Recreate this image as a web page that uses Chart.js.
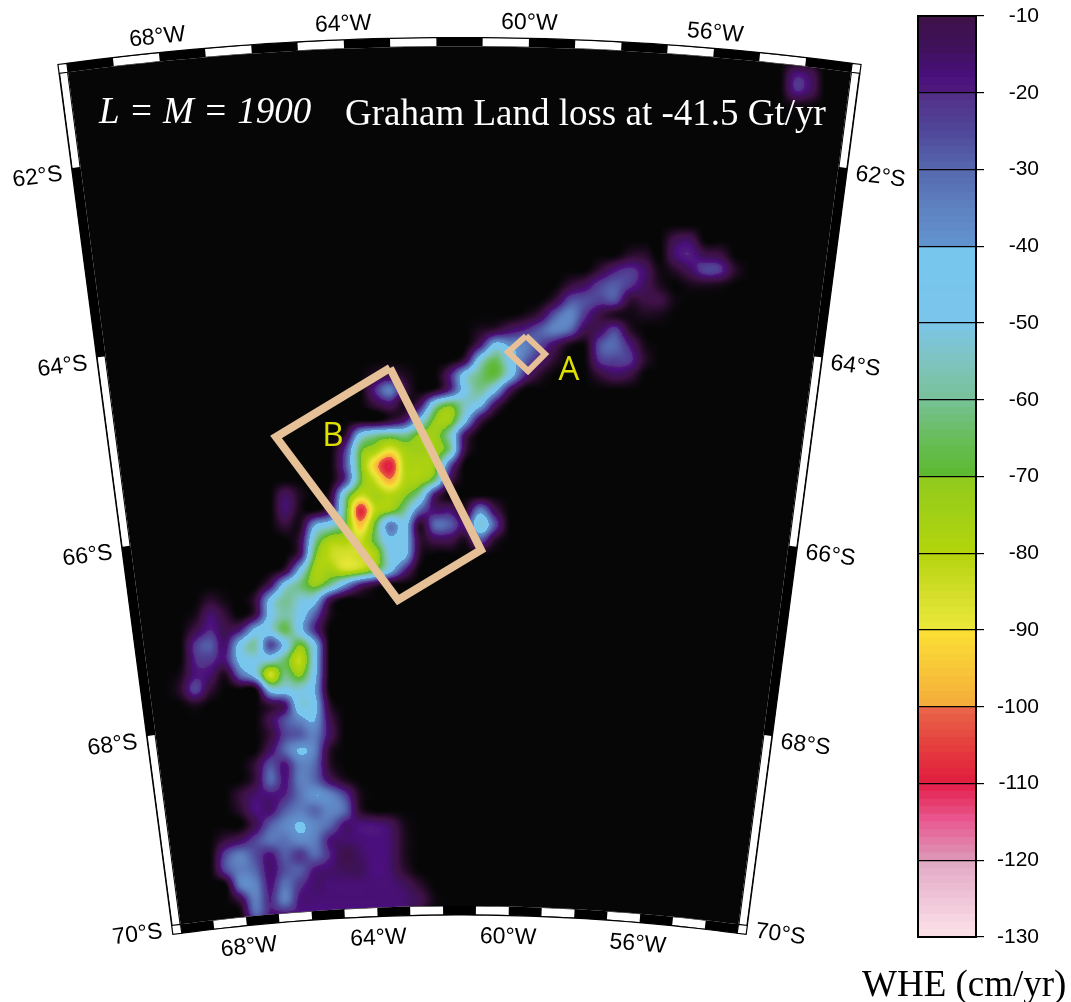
<!DOCTYPE html>
<html>
<head>
<meta charset="utf-8">
<script src="https://cdn.jsdelivr.net/npm/chart.js@4/dist/chart.umd.min.js"></script>
<style>
    html, body { margin: 0; padding: 0; background: #fff; }
    #wrap { position: relative; width: 1071px; height: 1002px; overflow: hidden; }
    canvas { position: absolute; top: 0; }
</style>
</head>
<body>
<div id="wrap">
    <canvas id="map" width="1071" height="1002" style="left:0"></canvas>
    <canvas id="bar" width="211" height="1002" style="left:860px"></canvas>
</div>
<script>
// WHE, cm/yr. One entry per grid row, each run is [first east, values...]
const gridStep = 15;
const gridEast0 = 165;
const gridCols = 46;
const gridNorth = [60, 75, 90, 105, 120, 135, 150, 165, 180, 195, 210, 225, 240, 255, 270, 285, 300, 315, 330, 345, 360, 375, 390, 405, 420, 435, 450, 465, 480, 495, 510, 525, 540, 555, 570, 585, 600, 615, 630, 645, 660, 675, 690, 705, 720, 735, 750, 765, 780, 795, 810, 825, 840, 855, 870, 885, 900, 915];
const gridRuns = [
    [],
    [[795, -18, -14]],
    [[795, -20, -15]],
    [[795, -3, -2]],
    [], [], [], [], [], [], [], [],
    [[675, -12, -14]],
    [[630, -6, -6, 0, -16, -20, -12, -10]],
    [[600, -8, -18, -22, -15, -2, -6, -14, -24, -22, -6]],
    [[570, -8, -14, -24, -28, -22, -14, -4, 0, -3, -4, -3]],
    [[555, -8, -25, -26, -24, -26, -8, -10, -10, -2]],
    [[525, -3, -10, -28, -36, -22, -10, -4, -2, -4, -3]],
    [[480, -4, -8, -15, -20, -28, -35, -30, -12, -14, -24, -6]],
    [[480, -16, -45, -38, -35, -25, -14, -3, -2, -26, -30, -18, -3]],
    [[465, -10, -50, -65, -48, -30, -18, -6, 0, -1, -22, -24, -22, -6]],
    [[375, -6, -10, -4], [450, -18, -48, -62, -68, -48, -20, -6, 0, 0, 0, -8, -14, -10]],
    [[375, -20, -34, -10, 0, -4, -20, -48, -60, -45, -14]],
    [[375, -8, -14, -3, -15, -55, -68, -55, -44, -14]],
    [[390, -6, -16, -45, -72, -74, -46, -12]],
    [[345, -6, -46, -58, -62, -60, -72, -74, -56, -15]],
    [[345, -22, -66, -76, -88, -76, -74, -75, -60, -10]],
    [[345, -25, -68, -95, -110, -80, -78, -72, -28]],
    [[345, -22, -66, -84, -99, -80, -76, -62, -14]],
    [[285, -14, -4], [330, -6, -56, -82, -76, -80, -72, -56, -16]],
    [[285, -16, -3], [330, -14, -62, -108, -82, -74, -60, -30, -16, -16, -6, -34, -12]],
    [[285, -8, -4, -40, -50, -66, -96, -68, -34, -46, -6, -30, -28, -18, -52, -26]],
    [[300, -10, -58, -76, -78, -84, -66, -44, -46, -8, -12, -12, -4, -26, -6]],
    [[300, -14, -68, -82, -86, -84, -78, -50, -44, -6]],
    [[285, -8, -44, -76, -76, -84, -80, -68, -46, -20]],
    [[270, -14, -48, -62, -72, -60, -38, -18, -8]],
    [[210, -6, -2], [255, -8, -44, -60, -52, -46, -12]],
    [[195, -3, -16, -8], [255, -10, -46, -58, -48, -28, -4]],
    [[195, -10, -20, -12, -18, -44, -50, -66, -46, -20]],
    [[195, -22, -28, -16, -46, -58, -25, -46, -70, -44]],
    [[195, -20, -22, -18, -44, -50, -52, -64, -82, -46]],
    [[180, -3, -18, -16, -4, -30, -46, -84, -62, -72, -44]],
    [[180, -6, -24, -8], [270, -46, -48, -52, -40]],
    [[195, -4], [270, -8, -16, -50, -44, -6]],
    [[270, -12, -26, -36, -40, -12]],
    [[270, -8, -24, -28, -34, -14]],
    [[270, -14, -30, -41, -34, -6]],
    [[255, -8, -26, -18, -34, -30, -6]],
    [[255, -8, -30, -18, -34, -30, -14, -4]],
    [[240, -8, -16, -18, -20, -32, -40, -36, -24, -4]],
    [[240, -6, -18, -16, -28, -34, -30, -36, -30, -6]],
    [[255, -12, -28, -36, -41, -36, -30, -17, -18, -18, -14, -3]],
    [[225, -8, -14, -24, -32, -32, -37, -34, -18, -16, -17, -18, -16, -4]],
    [[225, -24, -34, -26, -18, -28, -22, -30, -20, -11, -15, -18, -16, -4]],
    [[225, -24, -34, -30, -16, -26, -28, -18, -16, -14, -14, -18, -16, -6]],
    [[240, -34, -36, -18, -32, -22, -16, -17, -17, -17, -17, -17, -14, -6]],
    [[240, -10, -34, -20, -34, -18, -17, -17, -17, -17, -17, -17, -16, -12, -2]],
    [[255, -28, -18, -16, -17, -17, -17, -17, -17, -17, -17, -14, -4]]
];

// colour table, same order as the bar from top to bottom. Repeated value = hard step
const rampValues = [0, -10, -14, -18, -20, -20, -25, -30, -35, -40, -40, -50, -55, -60, -65, -70, -70, -75, -80, -85, -90, -90, -95, -100, -100, -105, -110, -110, -115, -120, -120, -125, -130];
const rampColors = ['#060606', '#3f1147', '#3e1259', '#4b0f7d', '#4e1a7c', '#532d86', '#50479a', '#5568ae', '#5f82c0', '#6094cf', '#76c6ef', '#7ac5ea', '#7fc4c0', '#78c198', '#68bd5a', '#5cb82e', '#8fca1e', '#a2cf16', '#b3d40c', '#d2de2a', '#ebe838', '#fbe033', '#f8c838', '#f3aa3a', '#e9684a', '#e5403d', '#e01c3f', '#e41d47', '#e85a92', '#dd98b8', '#e0a8c2', '#f0c4d8', '#fde3ea'];

const barMin = -130;
const barMax = -10;
const barStep = 10;

const lonTicks = [-68, -64, -60, -56];
const latTicks = [62, 64, 66, 68, 70];
const whiteLon = [-69, -67, -65, -63, -61, -59, -57, -55];
const whiteLat = [[61, 62], [64, 66], [68, 70]];

const boxAEast = [526, 545, 528, 508, 526];
const boxANorth = [336, 354, 371, 352, 336];
const boxBEast = [390, 481, 398, 276, 390];
const boxBNorth = [368, 550, 600, 437, 368];

// conic map frame
const coneX = 459.5, coneY = 3036, lonMid = -61.5, coneRate = 0.01545;
const lonW = -70, lonE = -53, latN = 61, latS = 70;
const bandW = 9;

function radius(lat) {
    return 2894 - 95.5 * (lat - 62);
}

function proj(lon, lat, dr, ds) {
    const t = (lon - lonMid) * coneRate;
    const r = radius(lat) + (dr || 0);
    const s = ds || 0;
    return {
        x: coneX + r * Math.sin(t) + s * Math.cos(t),
        y: coneY - r * Math.cos(t) + s * Math.sin(t)
    };
}

function hexRgb(h) {
    return [parseInt(h.slice(1, 3), 16), parseInt(h.slice(3, 5), 16), parseInt(h.slice(5, 7), 16)];
}

function rampAt(v) {
    if (v >= rampValues[0]) return hexRgb(rampColors[0]);
    for (let i = 0; i < rampValues.length - 1; i++) {
        const a = rampValues[i], b = rampValues[i + 1];
        if (v <= a && v >= b && a !== b) {
            const f = (a - v) / (a - b);
            const c0 = hexRgb(rampColors[i]), c1 = hexRgb(rampColors[i + 1]);
            return [0, 1, 2].map(k => Math.round(c0[k] + (c1[k] - c0[k]) * f));
        }
    }
    return hexRgb(rampColors[rampColors.length - 1]);
}

// cells for the heat dataset
const heatCells = [];
gridRuns.forEach((runs, j) => {
    runs.forEach(run => {
        run.slice(1).forEach((v, i) => {
            heatCells.push({ x: run[0] + i * gridStep, y: gridNorth[j], v: v });
        });
    });
});

function segment(color, width, pts) {
    return {
        type: 'line',
        data: pts,
        borderColor: color,
        borderWidth: width,
        pointRadius: 0,
        tension: 0,
        fill: false,
        borderCapStyle: 'butt',
        borderJoinStyle: 'miter',
        order: 1
    };
}

function arcPts(lon0, lon1, lat, dr) {
    const pts = [];
    const n = Math.max(2, Math.round(Math.abs(lon1 - lon0) * 3));
    for (let i = 0; i <= n; i++) {
        pts.push(proj(lon0 + (lon1 - lon0) * i / n, lat, dr));
    }
    return pts;
}

function frameDatasets() {
    const sets = [];
    const mid = bandW / 2;
    // pieces are pushed bottom first, the list gets reversed at the end
    [[latN, 1], [latS, -1]].forEach(([lat, dir]) => {
        const dr = dir * mid;
        sets.push(segment('#000', bandW, arcPts(lonW, lonE, lat, dr)));
        whiteLon.forEach(l => sets.push(segment('#fff', bandW - 1, arcPts(l, l + 1, lat, dr))));
        sets.push(segment('#000', 1.2, arcPts(lonW, lonE, lat, dir * bandW)));
    });
    [[lonW, -1], [lonE, 1]].forEach(([lon, dir]) => {
        const side = (a, b, off) => [proj(lon, a, 0, off), proj(lon, b, 0, off)];
        sets.push(segment('#000', bandW, side(latN, latS, dir * mid)));
        whiteLat.forEach(p => sets.push(segment('#fff', bandW - 2, side(p[0], p[1], dir * mid))));
        sets.push(segment('#000', 1.2, side(latN, latS, dir * bandW)));
        // corner boxes
        [[latN, 1], [latS, -1]].forEach(([lat, up]) => {
            const box = [proj(lon, lat, 0, 0), proj(lon, lat, up * bandW, 0), proj(lon, lat, up * bandW, dir * bandW), proj(lon, lat, 0, dir * bandW), proj(lon, lat, 0, 0)];
            const corner = segment('#000', 1.2, box);
            corner.fill = 'shape';
            corner.backgroundColor = '#fff';
            sets.push(corner);
        });
    });
    return sets.reverse();
}

function boxPts(ex, ny) {
    return ex.map((x, i) => ({ x: x, y: ny[i] }));
}

function catmull(a, b, c, d, t) {
    return b + 0.5 * t * (c - a + t * (2 * a - 5 * b + 4 * c - d + t * (3 * (b - c) + d - a)));
}

// paints the value grid through the chart scales, blended between cells
const heatPlugin = {
    id: 'heat',
    beforeDatasetsDraw(chart) {
        const rows = gridNorth.length;
        const grid = new Float32Array(gridCols * rows);
        chart.data.datasets[0].data.forEach(c => {
            const i = Math.round((c.x - gridEast0) / gridStep);
            const j = gridNorth.indexOf(c.y);
            grid[j * gridCols + i] = c.v;
        });
        const cell = (i, j) => (i < 0 || j < 0 || i >= gridCols || j >= rows) ? 0 : grid[j * gridCols + i];
        const sx = chart.scales.x, sy = chart.scales.y;
        const w = chart.width, h = chart.height;
        const lut = [];
        for (let k = 0; k <= 600; k++) lut.push(rampAt(-k / 4));
        const off = document.createElement('canvas');
        off.width = w; off.height = h;
        const octx = off.getContext('2d');
        const img = octx.createImageData(w, h);
        const north0 = gridNorth[0];
        const tmp = [0, 0, 0, 0];
        for (let py = 0; py < h; py++) {
            const gy = (sy.getValueForPixel(py + 0.5) - north0) / gridStep;
            const j0 = Math.floor(gy), fy = gy - j0;
            for (let px = 0; px < w; px++) {
                const gx = (sx.getValueForPixel(px + 0.5) - gridEast0) / gridStep;
                const i0 = Math.floor(gx), fx = gx - i0;
                for (let q = 0; q < 4; q++) {
                    tmp[q] = catmull(cell(i0 - 1, j0 + q - 1), cell(i0, j0 + q - 1), cell(i0 + 1, j0 + q - 1), cell(i0 + 2, j0 + q - 1), fx);
                }
                const v = Math.min(0, catmull(tmp[0], tmp[1], tmp[2], tmp[3], fy));
                const col = lut[Math.min(600, Math.round(-v * 4))];
                const o = (py * w + px) * 4;
                img.data[o] = col[0]; img.data[o + 1] = col[1]; img.data[o + 2] = col[2]; img.data[o + 3] = 255;
            }
        }
        octx.putImageData(img, 0, 0);
        // clip to the map outline
        const ctx = chart.ctx;
        ctx.save();
        ctx.beginPath();
        const outline = arcPts(lonW, lonE, latN, 0).concat(arcPts(lonE, lonW, latS, 0));
        outline.forEach((p, i) => {
            const X = sx.getPixelForValue(p.x), Y = sy.getPixelForValue(p.y);
            if (i === 0) ctx.moveTo(X, Y); else ctx.lineTo(X, Y);
        });
        ctx.closePath();
        ctx.clip();
        ctx.drawImage(off, 0, 0);
        ctx.restore();
    }
};

function putText(ctx, text, x, y, font, color, rot, align) {
    ctx.save();
    ctx.translate(x, y);
    ctx.rotate(rot || 0);
    ctx.font = font;
    ctx.fillStyle = color;
    ctx.textAlign = align || 'center';
    ctx.textBaseline = 'alphabetic';
    ctx.fillText(text, 0, 0);
    ctx.restore();
}

const labelPlugin = {
    id: 'labels',
    afterDatasetsDraw(chart) {
        const ctx = chart.ctx;
        const sx = chart.scales.x, sy = chart.scales.y;
        const tickFont = '23px "Liberation Sans"';
        const at = p => ({ x: sx.getPixelForValue(p.x), y: sy.getPixelForValue(p.y) });
        lonTicks.forEach(lon => {
            const rot = (lon - lonMid) * coneRate;
            const top = at(proj(lon, latN, 18));
            putText(ctx, Math.abs(lon) + '°W', top.x, top.y, tickFont, '#000', rot);
            const bot = at(proj(lon, latS, -37));
            putText(ctx, Math.abs(lon) + '°W', bot.x, bot.y, tickFont, '#000', rot);
        });
        latTicks.forEach(lat => {
            const rotW = (lonW - lonMid) * coneRate;
            const rotE = (lonE - lonMid) * coneRate;
            const w = at(proj(lonW, lat, -11, -44));
            putText(ctx, lat + '°S', w.x, w.y, tickFont, '#000', rotW);
            const e = at(proj(lonE, lat, -11, 43));
            putText(ctx, lat + '°S', e.x, e.y, tickFont, '#000', rotE);
        });
        putText(ctx, 'L = M = 1900', 99, 123, 'italic 37px "Liberation Serif"', '#fff', 0, 'left');
        putText(ctx, 'Graham Land loss at -41.5 Gt/yr', 345, 125, '37px "Liberation Serif"', '#fff', 0, 'left');
        const a = at({ x: 569, y: 380 });
        putText(ctx, 'A', a.x, a.y, '33px "Open Sans"', '#e0e000');
        const b = at({ x: 333, y: 446 });
        putText(ctx, 'B', b.x, b.y, '33px "Open Sans"', '#e0e000');
    }
};

const mapDatasets = [
    segment('#e6c096', 6, boxPts(boxAEast, boxANorth)),
    segment('#e6c096', 8, boxPts(boxBEast, boxBNorth))
].concat(frameDatasets());
mapDatasets.unshift({
    type: 'scatter',
    label: 'WHE',
    data: heatCells,
    pointRadius: 0,
    showLine: false,
    order: 2
});

new Chart('map', {
    type: 'line',
    data: { datasets: mapDatasets },
    plugins: [heatPlugin, labelPlugin],
    options: {
        responsive: false,
        animation: false,
        devicePixelRatio: 1,
        layout: { padding: 0 },
        parsing: false,
        normalized: true,
        plugins: { legend: { display: false }, tooltip: { enabled: false } },
        scales: {
            x: { type: 'linear', display: false, min: 0, max: 1071 },
            y: { type: 'linear', display: false, min: 0, max: 1002, reverse: true }
        }
    }
});

// colour bar: each band runs down to the bottom and the next one paints over it
const barDatasets = [];
for (let level = barMin + 1; level <= barMax; level++) {
    const c = rampAt(level - 0.5);
    barDatasets.push({
        data: [[barMin, level]],
        backgroundColor: 'rgb(' + c.join(',') + ')',
        borderWidth: 0,
        barPercentage: 1,
        categoryPercentage: 1,
        grouped: false
    });
}

const barFrame = {
    id: 'barFrame',
    afterDraw(chart) {
        const ctx = chart.ctx, a = chart.chartArea;
        ctx.save();
        ctx.strokeStyle = '#000';
        ctx.lineWidth = 2;
        ctx.strokeRect(a.left, a.top, a.right - a.left, a.bottom - a.top);
        ctx.restore();
        putText(ctx, 'WHE (cm/yr)', 2, 996, '37px "Liberation Serif"', '#000', 0, 'left');
    }
};

new Chart('bar', {
    type: 'bar',
    data: { labels: ['WHE'], datasets: barDatasets },
    plugins: [barFrame],
    options: {
        responsive: false,
        animation: false,
        devicePixelRatio: 1,
        layout: { padding: { left: 58, top: 16, bottom: 65, right: 32 } },
        plugins: { legend: { display: false }, tooltip: { enabled: false } },
        scales: {
            x: { display: false, stacked: false },
            y: {
                position: 'right',
                min: barMin,
                max: barMax,
                afterFit(scale) { scale.width = 63; scale.paddingTop = 0; scale.paddingBottom = 0; },
                border: { display: false },
                grid: { color: '#000', lineWidth: 1.2, z: 1, tickLength: 8, tickColor: '#000' },
                ticks: {
                    stepSize: barStep,
                    padding: 13,
                    crossAlign: 'far',
                    color: '#000',
                    font: { family: 'Liberation Sans', size: 21 }
                }
            }
        }
    }
});
</script>
</body>
</html>
